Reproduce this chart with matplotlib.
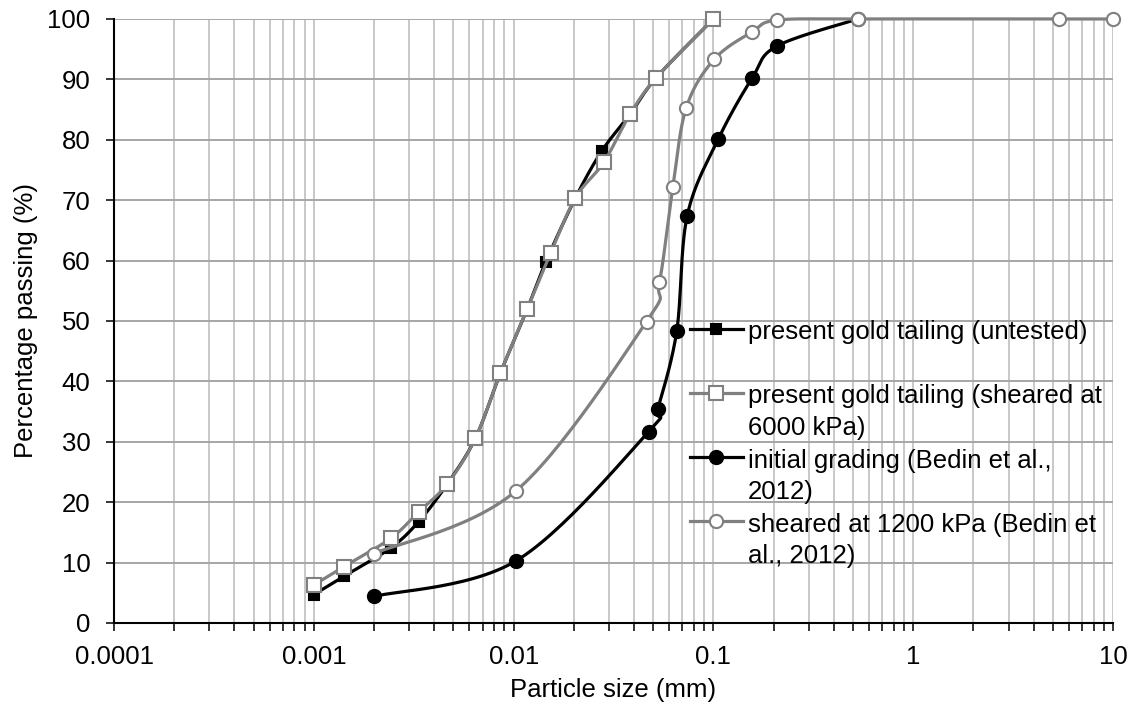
import numpy as np
import matplotlib
matplotlib.use("Agg")
from matplotlib import pyplot as plt
from matplotlib.ticker import LogLocator, FixedLocator, NullFormatter
from matplotlib.legend_handler import HandlerLine2D

plt.rcParams['font.family'] = ['Liberation Sans', 'DejaVu Sans']
fs = 18.5

# grading curves, particle size in mm, percent passing
untested_size = [0.001, 0.00141, 0.00242, 0.00335, 0.00465, 0.00644, 0.00859,
                 0.0117, 0.0145, 0.0204, 0.0277, 0.0382, 0.0518, 0.1]
untested_pass = [4.7, 7.7, 12.4, 16.8, 23.0, 30.6, 41.4,
                 52.0, 59.8, 70.4, 78.2, 84.2, 90.3, 100]

sheared6000_size = [0.001, 0.00141, 0.00242, 0.00335, 0.00465, 0.00644, 0.00859,
                    0.0117, 0.0153, 0.0204, 0.0283, 0.0382, 0.0518, 0.1]
sheared6000_pass = [6.3, 9.3, 14.0, 18.4, 23.0, 30.6, 41.4,
                    52.0, 61.2, 70.4, 76.3, 84.2, 90.3, 100]

initial_size = [0.002, 0.0103, 0.0475, 0.0527, 0.0655, 0.0739, 0.1057,
                0.1567, 0.2075, 0.527]
initial_pass = [4.4, 10.3, 31.7, 35.5, 48.3, 67.4, 80.1,
                90.3, 95.5, 100]

sheared1200_size = [0.002, 0.0103, 0.0463, 0.0537, 0.0627, 0.0731, 0.1007,
                    0.1567, 0.2075, 0.527, 5.38, 10]
sheared1200_pass = [11.5, 21.9, 49.9, 56.4, 72.2, 85.3, 93.3,
                    97.9, 99.8, 100, 100, 100]

labels = ['present gold tailing (untested)\n ',
          'present gold tailing (sheared at\n6000 kPa)',
          'initial grading (Bedin et al.,\n2012)',
          'sheared at 1200 kPa (Bedin et\nal., 2012)']

LINE_STEP = 1.4           # legend line spacing
HANDLE_SHIFT = 14.0       # points, moves legend symbol up to the first text line


class FirstLineHandler(HandlerLine2D):
    def create_artists(self, legend, orig_handle, xdescent, ydescent,
                       width, height, fontsize, trans):
        arts = super().create_artists(legend, orig_handle, xdescent, ydescent,
                                      width, height, fontsize, trans)
        for a in arts:
            a.set_ydata(np.asarray(a.get_ydata()) + HANDLE_SHIFT)
        return arts


def smooth(xs, ys, n=30):
    # Catmull-Rom through the points, done in log-x space
    lx = np.log10(xs)
    y = np.asarray(ys, dtype=float)
    p = np.column_stack([lx, y])
    p = np.vstack([p[0], p, p[-1]])
    out = []
    t = np.linspace(0, 1, n)[:, None]
    for i in range(1, len(p) - 2):
        p0, p1, p2, p3 = p[i - 1], p[i], p[i + 1], p[i + 2]
        c1 = p1 + (p2 - p0) / 6
        c2 = p2 - (p3 - p1) / 6
        seg = ((1 - t) ** 3) * p1 + 3 * ((1 - t) ** 2) * t * c1 \
            + 3 * (1 - t) * (t ** 2) * c2 + (t ** 3) * p2
        out.append(seg if i == 1 else seg[1:])
    out = np.vstack(out)
    return 10 ** out[:, 0], out[:, 1]


gray = '#808080'

fig = plt.figure(figsize=(11.37, 7.11), dpi=100)
ax = fig.add_axes([0.1003, 0.1238, 0.8786, 0.8495])
ax.set_xscale('log')
ax.set_xlim(0.0001, 10)
ax.set_ylim(0, 100)

ax.xaxis.set_major_locator(FixedLocator([0.0001, 0.001, 0.01, 0.1, 1, 10]))
ax.set_xticklabels(['0.0001', '0.001', '0.01', '0.1', '1', '10'])
ax.xaxis.set_minor_locator(LogLocator(base=10, subs=np.arange(2, 10), numticks=20))
ax.xaxis.set_minor_formatter(NullFormatter())
ax.set_yticks(range(0, 101, 10))

ax.grid(True, which='both', axis='x', color='#bfbfbf', linewidth=1.2, zorder=0)
ax.grid(True, which='major', axis='y', color='#a6a6a6', linewidth=1.4, zorder=0)
ax.set_axisbelow(True)

for s in ['top', 'right']:
    ax.spines[s].set_visible(False)
for s in ['left', 'bottom']:
    ax.spines[s].set_linewidth(1.5)
    ax.spines[s].set_color('black')

ax.tick_params(axis='both', which='both', direction='out', length=6, width=1.1,
               colors='black', labelsize=fs)
ax.tick_params(axis='x', which='both', pad=10)
ax.tick_params(axis='y', which='both', pad=11)

series = [
    (untested_size, untested_pass, 'black', 's', 'black', 'black', 6.5),
    (sheared6000_size, sheared6000_pass, gray, 's', 'white', gray, 9.5),
    (initial_size, initial_pass, 'black', 'o', 'black', 'black', 9.5),
    (sheared1200_size, sheared1200_pass, gray, 'o', 'white', gray, 9.5),
]

handles = []
for k, (xs, ys, col, mk, fc, ec, ms) in enumerate(series):
    sx, sy = smooth(xs, ys)
    ax.plot(sx, sy, color=col, linewidth=2.3, clip_on=False, zorder=3 + 2 * k)
    ax.plot(xs, ys, linestyle='none', marker=mk, markerfacecolor=fc,
            markeredgecolor=ec, markeredgewidth=1.5, markersize=ms,
            clip_on=False, zorder=4 + 2 * k)
    h, = ax.plot([], [], color=col, linewidth=2.3, marker=mk, markerfacecolor=fc,
                 markeredgecolor=ec, markeredgewidth=1.5, markersize=ms)
    handles.append(h)

leg = ax.legend(handles, labels, loc='upper left',
                bbox_to_anchor=(0.5766, 0.5010), frameon=False, borderpad=0,
                borderaxespad=0, handlelength=2.05, handletextpad=0.2,
                labelspacing=0.33, fontsize=fs,
                handler_map={h: FirstLineHandler() for h in handles})
for t in leg.get_texts():
    t.set_linespacing(LINE_STEP)

ax.set_xlabel('Particle size (mm)', fontsize=fs, labelpad=6)
ax.set_ylabel('Percentage passing (%)', fontsize=fs, labelpad=7)

fig.savefig('out.png', dpi=100)
